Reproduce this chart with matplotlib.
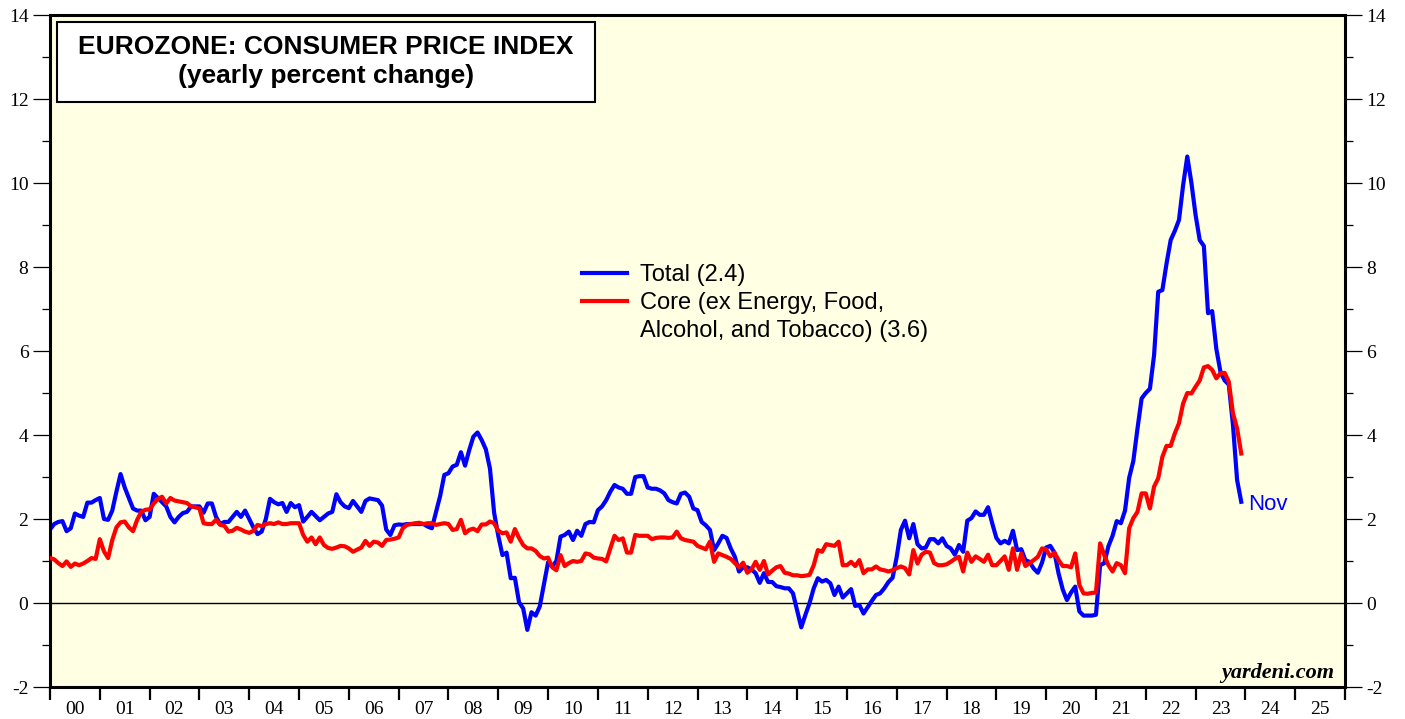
import numpy as np
import matplotlib
matplotlib.use('Agg')
import matplotlib.pyplot as plt
from matplotlib.lines import Line2D
from matplotlib.patches import Rectangle

plt.rcParams['axes.unicode_minus'] = False

# monthly yearly % change, first value is Dec 1999, last is Nov 2023
total = [1.75,
         1.88, 1.93, 1.95, 1.71, 1.78, 2.13, 2.08, 2.05, 2.39, 2.39, 2.45, 2.50,  # 2000
         2.00, 1.98, 2.20, 2.65, 3.07, 2.75, 2.50, 2.25, 2.20, 2.20, 1.97, 2.05,  # 2001
         2.60, 2.50, 2.40, 2.30, 2.05, 1.92, 2.05, 2.14, 2.17, 2.30, 2.30, 2.30,  # 2002
         2.15, 2.37, 2.37, 2.05, 1.88, 1.93, 1.93, 2.05, 2.17, 2.05, 2.20, 2.00,  # 2003
         1.80, 1.64, 1.70, 2.00, 2.48, 2.40, 2.35, 2.38, 2.17, 2.38, 2.28, 2.33,  # 2004
         1.94, 2.05, 2.17, 2.07, 1.97, 2.05, 2.13, 2.17, 2.59, 2.40, 2.30, 2.26,  # 2005
         2.43, 2.30, 2.17, 2.43, 2.49, 2.47, 2.45, 2.32, 1.75, 1.62, 1.85, 1.87,  # 2006
         1.86, 1.88, 1.88, 1.88, 1.88, 1.88, 1.82, 1.78, 2.17, 2.55, 3.05, 3.09,  # 2007
         3.25, 3.29, 3.59, 3.27, 3.64, 3.96, 4.06, 3.88, 3.66, 3.20, 2.15, 1.60,  # 2008
         1.14, 1.20, 0.59, 0.60, 0.02, -0.13, -0.64, -0.22, -0.30, -0.08, 0.45, 0.97,  # 2009
         0.87, 1.00, 1.58, 1.62, 1.70, 1.50, 1.72, 1.60, 1.88, 1.93, 1.92, 2.21,  # 2010
         2.30, 2.45, 2.65, 2.81, 2.75, 2.72, 2.60, 2.60, 3.00, 3.02, 3.02, 2.75,  # 2011
         2.72, 2.72, 2.68, 2.61, 2.45, 2.40, 2.37, 2.60, 2.63, 2.53, 2.25, 2.21,  # 2012
         1.93, 1.85, 1.74, 1.26, 1.42, 1.60, 1.55, 1.30, 1.10, 0.75, 0.85, 0.85,  # 2013
         0.80, 0.71, 0.48, 0.71, 0.50, 0.50, 0.40, 0.38, 0.35, 0.35, 0.23, -0.17,  # 2014
         -0.58, -0.28, 0.00, 0.35, 0.59, 0.51, 0.55, 0.47, 0.19, 0.39, 0.13, 0.23,  # 2015
         0.33, -0.07, -0.05, -0.25, -0.10, 0.05, 0.19, 0.23, 0.35, 0.50, 0.60, 1.10,  # 2016
         1.74, 1.96, 1.54, 1.88, 1.40, 1.30, 1.32, 1.52, 1.52, 1.42, 1.54, 1.36,  # 2017
         1.30, 1.15, 1.38, 1.22, 1.96, 2.02, 2.18, 2.10, 2.10, 2.28, 1.90, 1.55,  # 2018
         1.42, 1.48, 1.42, 1.72, 1.26, 1.28, 1.02, 0.98, 0.82, 0.72, 0.96, 1.32,  # 2019
         1.36, 1.20, 0.70, 0.32, 0.07, 0.25, 0.39, -0.20, -0.30, -0.30, -0.30, -0.28,  # 2020
         0.90, 0.95, 1.35, 1.60, 1.95, 1.90, 2.20, 2.98, 3.38, 4.15, 4.87, 5.00,  # 2021
         5.10, 5.90, 7.41, 7.45, 8.08, 8.64, 8.86, 9.12, 9.95, 10.63, 10.00, 9.24,  # 2022
         8.64, 8.50, 6.90, 6.95, 6.05, 5.50, 5.30, 5.20, 4.25, 2.93, 2.41]  # 2023

core = [1.07,
        1.04, 0.95, 0.88, 0.99, 0.86, 0.94, 0.90, 0.94, 1.00, 1.07, 1.05, 1.52,  # 2000
        1.23, 1.07, 1.50, 1.80, 1.92, 1.94, 1.80, 1.71, 1.98, 2.17, 2.22, 2.23,  # 2001
        2.37, 2.48, 2.53, 2.37, 2.50, 2.44, 2.42, 2.40, 2.38, 2.30, 2.28, 2.25,  # 2002
        1.90, 1.88, 1.88, 1.98, 1.86, 1.84, 1.70, 1.72, 1.79, 1.75, 1.70, 1.67,  # 2003
        1.72, 1.86, 1.83, 1.88, 1.90, 1.88, 1.92, 1.88, 1.88, 1.90, 1.90, 1.90,  # 2004
        1.62, 1.46, 1.56, 1.40, 1.56, 1.38, 1.31, 1.29, 1.32, 1.36, 1.35, 1.30,  # 2005
        1.22, 1.27, 1.32, 1.48, 1.36, 1.46, 1.44, 1.36, 1.50, 1.51, 1.53, 1.56,  # 2006
        1.78, 1.86, 1.88, 1.90, 1.91, 1.88, 1.90, 1.90, 1.86, 1.88, 1.90, 1.88,  # 2007
        1.74, 1.76, 1.98, 1.66, 1.74, 1.77, 1.71, 1.87, 1.87, 1.94, 1.90, 1.72,  # 2008
        1.66, 1.68, 1.46, 1.76, 1.55, 1.38, 1.30, 1.30, 1.24, 1.12, 1.06, 1.08,  # 2009
        0.85, 0.78, 1.14, 0.88, 0.95, 1.00, 0.98, 1.00, 1.18, 1.16, 1.08, 1.06,  # 2010
        1.05, 0.99, 1.30, 1.60, 1.50, 1.54, 1.20, 1.20, 1.62, 1.60, 1.60, 1.60,  # 2011
        1.52, 1.55, 1.56, 1.56, 1.55, 1.56, 1.70, 1.54, 1.50, 1.48, 1.46, 1.36,  # 2012
        1.32, 1.28, 1.46, 0.98, 1.18, 1.14, 1.10, 1.05, 0.95, 0.85, 0.96, 0.72,  # 2013
        0.80, 0.98, 0.79, 1.00, 0.68, 0.77, 0.85, 0.88, 0.72, 0.70, 0.66, 0.66,  # 2014
        0.64, 0.65, 0.67, 0.90, 1.26, 1.22, 1.40, 1.38, 1.36, 1.46, 0.90, 0.90,  # 2015
        0.98, 0.88, 1.02, 0.71, 0.80, 0.80, 0.87, 0.80, 0.78, 0.75, 0.78, 0.83,  # 2016
        0.87, 0.83, 0.68, 1.26, 0.94, 1.15, 1.22, 1.20, 0.95, 0.90, 0.90, 0.92,  # 2017
        0.98, 1.05, 1.10, 0.75, 1.20, 0.98, 1.11, 1.05, 0.98, 1.15, 0.90, 0.90,  # 2018
        1.00, 1.11, 0.79, 1.30, 0.79, 1.18, 0.88, 0.95, 1.02, 1.10, 1.30, 1.28,  # 2019
        1.11, 1.20, 1.02, 0.88, 0.88, 0.85, 1.18, 0.43, 0.23, 0.22, 0.24, 0.25,  # 2020
        1.42, 1.14, 0.90, 0.75, 0.95, 0.90, 0.71, 1.78, 2.02, 2.17, 2.61, 2.61,  # 2021
        2.25, 2.77, 2.97, 3.48, 3.74, 3.74, 4.04, 4.28, 4.75, 5.00, 4.99, 5.15,  # 2022
        5.30, 5.61, 5.64, 5.55, 5.35, 5.47, 5.48, 5.27, 4.52, 4.16, 3.56]  # 2023

year_labels = ['%02d' % (y % 100) for y in range(2000, 2026)]
total_label = 'Total (2.4)'
core_label = 'Core (ex Energy, Food,'
core_label2 = 'Alcohol, and Tobacco) (3.6)'

dates = 2000 + np.arange(len(total)) / 12.0

sans = 'Liberation Sans'
serif = 'Liberation Serif'

fig = plt.figure(figsize=(14.05, 7.19), dpi=100)
ax = fig.add_axes([50 / 1405, 32 / 719, 1295 / 1405, 672 / 719])
ax.set_facecolor('#FFFFE3')

ax.axhline(0, color='black', lw=1.0, zorder=1)
ax.plot(dates, core, color='#FF0000', lw=3.0, zorder=3, solid_joinstyle='round')
ax.plot(dates, total, color='#0000FF', lw=3.0, zorder=2, solid_joinstyle='round')

ax.set_xlim(2000, 2026)
ax.set_ylim(-2, 14)

# x axis: ticks at year boundaries, labels in the middle of each year
ax.set_xticks(np.arange(2000, 2027))
ax.set_xticklabels([])
ax.set_xticks(np.arange(2000, 2026) + 0.5, minor=True)
ax.set_xticklabels(year_labels, minor=True, fontfamily=serif, fontsize=14)
ax.tick_params(axis='x', which='major', direction='out', length=9, width=1.6, color='black')
ax.tick_params(axis='x', which='minor', length=0, pad=10)

ax.set_yticks(np.arange(-2, 15, 2))
ax.set_yticks(np.arange(-1, 14, 2), minor=True)
ax.tick_params(axis='y', which='both', left=True, right=True, labelleft=True, labelright=True,
               direction='out', width=0.9)
ax.tick_params(axis='y', which='major', length=12, pad=3.5, labelsize=14)
ax.tick_params(axis='y', which='minor', length=6)
for lab in ax.get_yticklabels():
    lab.set_fontfamily(serif)

for sp in ax.spines.values():
    sp.set_linewidth(2.2)

# title box
ax.add_patch(Rectangle((7 / 1295, (687 - 102) / 672), 538 / 1295, 80 / 672, transform=ax.transAxes,
                       facecolor='white', edgecolor='black', lw=1.5, zorder=5))
ax.text(276 / 1295, (687 - 47) / 672, 'EUROZONE: CONSUMER PRICE INDEX', transform=ax.transAxes,
        ha='center', va='center', fontsize=19, fontweight='bold', fontfamily=sans, zorder=6)
ax.text(276 / 1295, (687 - 76) / 672, '(yearly percent change)', transform=ax.transAxes,
        ha='center', va='center', fontsize=19, fontweight='bold', fontfamily=sans, zorder=6)

handles = [Line2D([], [], color='#0000FF', lw=3.0),
           Line2D([], [], color='#FF0000', lw=3.0),
           Line2D([], [], color='none', lw=3.0)]
leg = ax.legend(handles, [total_label, core_label, core_label2], loc='upper left',
                bbox_to_anchor=((582 - 50) / 1295, (687 - 264) / 672), frameon=False,
                borderpad=0, borderaxespad=0, handlelength=1.9, handletextpad=0.55,
                labelspacing=0.25, prop={'family': sans, 'size': 17})

ax.annotate('Nov', (dates[-1], total[-1]), xytext=(5, -2), textcoords='offset points',
            ha='left', va='center', color='#0000FF', fontsize=16, fontfamily=sans)

ax.text(0.992, 0.0134, 'yardeni.com', transform=ax.transAxes, ha='right', va='baseline',
        fontsize=16, fontweight='bold', fontstyle='italic', fontfamily=serif)

fig.savefig('out.png', dpi=100)
